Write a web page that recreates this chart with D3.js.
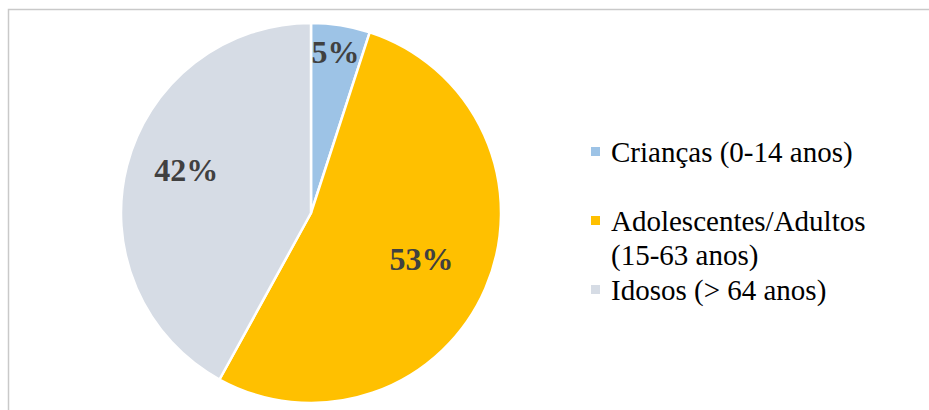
<!DOCTYPE html>
<html>
<head>
  <meta charset="utf-8">
  <title>Faixa etária</title>
  <script src="https://d3js.org/d3.v7.min.js"></script>
  <style>
    body { margin: 0; background: #fff; }
    text { font-family: 'Liberation Serif', 'Times New Roman', serif; }
    .label { font-weight: bold; font-size: 32px; fill: #404040; }
    .legend text { font-size: 29px; fill: #000; }
  </style>
</head>
<body>
  <svg width="929" height="410"></svg>

  <script>
    // dados
    const categories = ["Crianças (0-14 anos)", "Adolescentes/Adultos (15-63 anos)", "Idosos (> 64 anos)"];
    const legendLines = [["Crianças (0-14 anos)"], ["Adolescentes/Adultos", "(15-63 anos)"], ["Idosos (> 64 anos)"]];
    const values = [5, 53, 42];
    const colors = ["#9dc3e6", "#ffc000", "#d6dce5"];

    // label placement: radius fraction and angle shift (degrees)
    const labelRadius = [0.86, 0.63, 0.695];
    const labelShift = [-0.4, -0.9, 4.6];

    const svg = d3.select("svg");

    // frame
    svg.append("rect")
      .attr("x", 8.5).attr("y", 9.5)
      .attr("width", 940).attr("height", 430)
      .attr("fill", "none")
      .attr("stroke", "#c9c9c9")
      .attr("stroke-width", 1.5);

    const cx = 311, cy = 213, r = 190;
    const g = svg.append("g").attr("transform", `translate(${cx},${cy})`);

    const pie = d3.pie().sort(null).value(d => d);
    const arcs = pie(values);
    const arc = d3.arc().innerRadius(0).outerRadius(r);

    g.selectAll("path.slice")
      .data(arcs)
      .enter().append("path")
      .attr("class", "slice")
      .attr("d", arc)
      .attr("fill", (d, i) => colors[i])
      .attr("stroke", "#fff")
      .attr("stroke-width", 2.5)
      .attr("stroke-linejoin", "round");

    g.selectAll("text.label")
      .data(arcs)
      .enter().append("text")
      .attr("class", "label")
      .attr("text-anchor", "middle")
      .attr("dy", "0.35em")
      .attr("transform", (d, i) => {
        const a = (d.startAngle + d.endAngle) / 2 + labelShift[i] * Math.PI / 180;
        const rr = r * labelRadius[i];
        return `translate(${rr * Math.sin(a)},${-rr * Math.cos(a)})`;
      })
      .text(d => d.value + "%");

    // legend
    const legend = svg.append("g").attr("class", "legend").attr("transform", "translate(591,162)");
    const entryStep = 69, lineStep = 34;
    const item = legend.selectAll("g")
      .data(categories)
      .enter().append("g")
      .attr("transform", (d, i) => `translate(0,${i * entryStep})`);

    item.append("rect")
      .attr("x", 0).attr("y", -15)
      .attr("width", 9).attr("height", 9)
      .attr("fill", (d, i) => colors[i]);

    item.append("text")
      .attr("x", 20)
      .selectAll("tspan")
      .data((d, i) => legendLines[i])
      .enter().append("tspan")
      .attr("x", 20)
      .attr("y", (d, j) => j * lineStep)
      .text(d => d);
  </script>
</body>
</html>
